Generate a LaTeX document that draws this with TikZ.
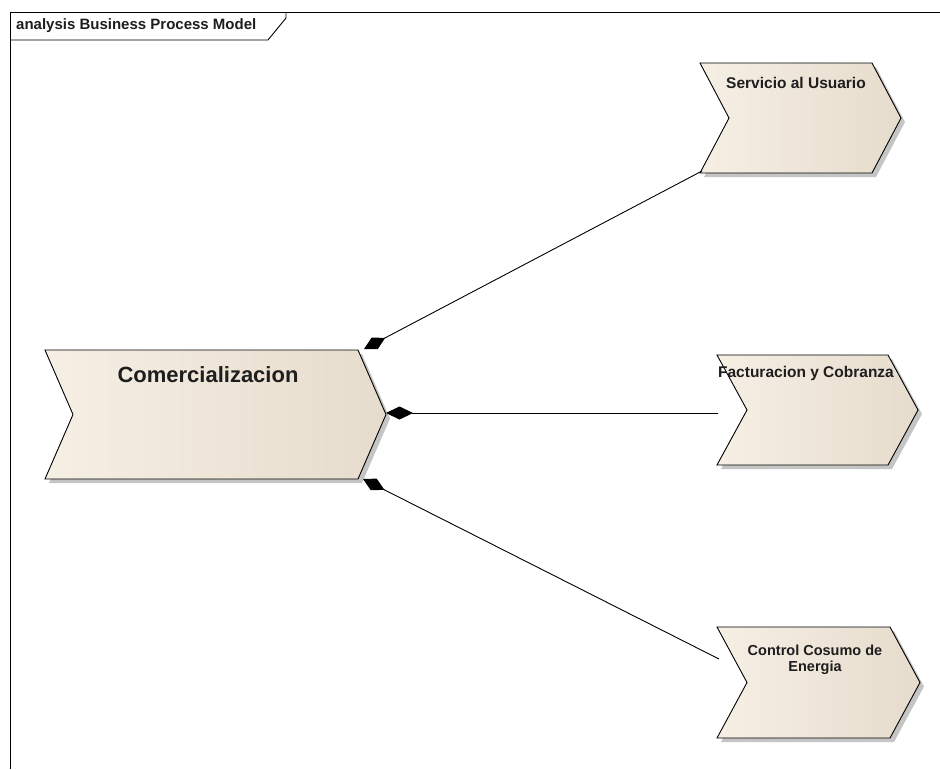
\documentclass[tikz,border=0pt]{standalone}
\usepackage{fontspec}
\setmainfont{Liberation Sans}
\usetikzlibrary{arrows.meta}
\definecolor{chevL}{RGB}{246,239,228}
\definecolor{chevR}{RGB}{230,220,205}
\definecolor{shad}{RGB}{150,150,150}
\definecolor{txt}{RGB}{30,30,30}
\tikzset{
  chev/.style={draw=black, line width=0.9pt, left color=chevL, right color=chevR},
  chevshadow/.style={fill=shad, opacity=0.55},
  conn/.style={draw=black, line width=0.9pt},
  framel/.style={draw=black, line width=0.9pt},
  lbl/.style={inner sep=0pt, text=txt, font=\fontsize{15.5}{17}\selectfont\bfseries},
  smlbl/.style={inner sep=0pt, text=txt, font=\fontsize{14.5}{15.5}\selectfont\bfseries},
  titlelbl/.style={inner sep=0pt, text=txt, font=\fontsize{15}{16}\selectfont\bfseries},
  biglbl/.style={inner sep=0pt, text=txt, font=\fontsize{22}{24}\selectfont\bfseries},
  diam/.style={-{Diamond[length=24pt,width=13pt]}},
}
\newcommand\chevron[6]{%
  \fill[chevshadow, shift={(4,4)}] (#2,#3) -- (#4,#3) -- ({#4+#6},{(#3+#5)/2}) -- (#4,#5) -- (#2,#5) -- ({#2+#6},{(#3+#5)/2}) -- cycle;
  \path[chev] (#2,#3) coordinate (#1-tl) -- (#4,#3) coordinate (#1-tr) -- ({#4+#6},{(#3+#5)/2}) coordinate (#1-tip) -- (#4,#5) coordinate (#1-br) -- (#2,#5) coordinate (#1-bl) -- ({#2+#6},{(#3+#5)/2}) coordinate (#1-notch) -- cycle;
}
\begin{document}
\begin{tikzpicture}[x=1pt,y=-1pt]
\useasboundingbox (0,0) rectangle (940,769);
\fill[white] (0,0) rectangle (940,769);
% frame
\draw[framel] (940,12) -- (10,12) -- (10,769);
\draw[framel] (286,12) -- (286,18) -- (268,40) -- (10,40);
\node[titlelbl, anchor=west] (title) at (16,26) {analysis Business Process Model};
% chevrons
\chevron{com}{45}{350}{358}{479}{28}
\chevron{srv}{700}{63}{872}{173}{29}
\chevron{fac}{717}{355}{888}{465}{30}
\chevron{ctl}{717}{627}{890}{738}{30}
% labels
\node[biglbl] (t-com) at (208,375) {Comercializacion};
\node[lbl] (t-srv) at (796,83) {Servicio al Usuario};
\node[lbl] (t-fac) at (806,373) {Facturacion y Cobranza};
\node[smlbl, align=center] (t-ctl) at (815,660) {Control Cosumo de\\Energia};
% connectors
\coordinate (c1) at (364,349);
\coordinate (s1) at (702,171);
\coordinate (c2) at (386,413);
\coordinate (f1) at (718,413);
\coordinate (c3) at (363,479);
\coordinate (k1) at (719,659);
\draw[conn, diam] (s1) -- (c1);
\draw[conn, -{Diamond[length=27pt,width=13pt]}] (f1) -- (c2);
\draw[conn, diam] (k1) -- (c3);
\end{tikzpicture}
\end{document}
